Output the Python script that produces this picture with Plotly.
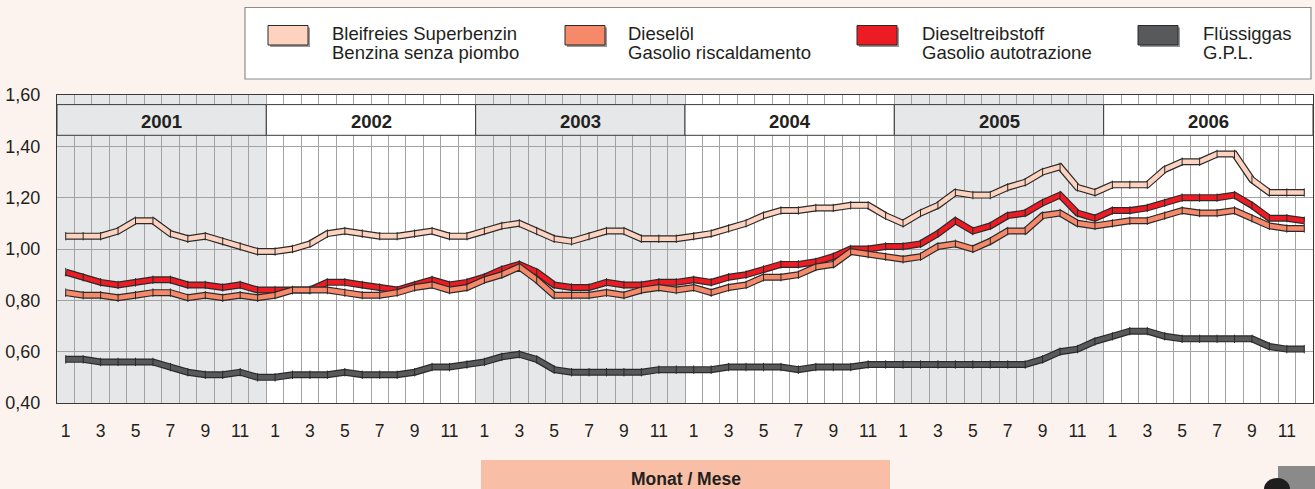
import plotly.graph_objects as go

# Preise in Euro pro Liter / prezzi in euro al litro, 2001-2006
years = [2001, 2002, 2003, 2004, 2005, 2006]
months = list(range(1, 13))
month_labels = [str(m) for m in months if m % 2 == 1]

benzin = [1.05, 1.05, 1.05, 1.07, 1.11, 1.11, 1.06, 1.04, 1.05, 1.03, 1.01, 0.99,
          0.99, 1.00, 1.02, 1.06, 1.07, 1.06, 1.05, 1.05, 1.06, 1.07, 1.05, 1.05,
          1.07, 1.09, 1.10, 1.07, 1.04, 1.03, 1.05, 1.07, 1.07, 1.04, 1.04, 1.04,
          1.05, 1.06, 1.08, 1.10, 1.13, 1.15, 1.15, 1.16, 1.16, 1.17, 1.17, 1.13,
          1.10, 1.14, 1.17, 1.22, 1.21, 1.21, 1.24, 1.26, 1.30, 1.32, 1.24, 1.22,
          1.25, 1.25, 1.25, 1.31, 1.34, 1.34, 1.37, 1.37, 1.27, 1.22, 1.22, 1.22]

dieseloel = [0.83, 0.82, 0.82, 0.81, 0.82, 0.83, 0.83, 0.81, 0.82, 0.81, 0.82, 0.81,
             0.82, 0.84, 0.84, 0.84, 0.83, 0.82, 0.82, 0.83, 0.85, 0.86, 0.84, 0.85,
             0.88, 0.90, 0.93, 0.88, 0.82, 0.82, 0.82, 0.83, 0.82, 0.84, 0.85, 0.84,
             0.85, 0.83, 0.85, 0.86, 0.89, 0.89, 0.90, 0.93, 0.94, 0.99, 0.98, 0.97,
             0.96, 0.97, 1.01, 1.02, 1.00, 1.03, 1.07, 1.07, 1.13, 1.14, 1.10, 1.09,
             1.10, 1.11, 1.11, 1.13, 1.15, 1.14, 1.14, 1.15, 1.12, 1.09, 1.08, 1.08]

diesel = [0.91, 0.89, 0.87, 0.86, 0.87, 0.88, 0.88, 0.86, 0.86, 0.85, 0.86, 0.84,
          0.84, 0.84, 0.84, 0.87, 0.87, 0.86, 0.85, 0.84, 0.86, 0.88, 0.86, 0.87,
          0.89, 0.92, 0.94, 0.91, 0.86, 0.85, 0.85, 0.87, 0.86, 0.86, 0.87, 0.87,
          0.88, 0.87, 0.89, 0.90, 0.92, 0.94, 0.94, 0.95, 0.97, 1.00, 1.00, 1.01,
          1.01, 1.02, 1.06, 1.11, 1.07, 1.09, 1.13, 1.14, 1.18, 1.21, 1.14, 1.12,
          1.15, 1.15, 1.16, 1.18, 1.20, 1.20, 1.20, 1.21, 1.17, 1.12, 1.12, 1.11]

gas = [0.57, 0.57, 0.56, 0.56, 0.56, 0.56, 0.54, 0.52, 0.51, 0.51, 0.52, 0.50,
       0.50, 0.51, 0.51, 0.51, 0.52, 0.51, 0.51, 0.51, 0.52, 0.54, 0.54, 0.55,
       0.56, 0.58, 0.59, 0.57, 0.53, 0.52, 0.52, 0.52, 0.52, 0.52, 0.53, 0.53,
       0.53, 0.53, 0.54, 0.54, 0.54, 0.54, 0.53, 0.54, 0.54, 0.54, 0.55, 0.55,
       0.55, 0.55, 0.55, 0.55, 0.55, 0.55, 0.55, 0.55, 0.57, 0.60, 0.61, 0.64,
       0.66, 0.68, 0.68, 0.66, 0.65, 0.65, 0.65, 0.65, 0.65, 0.62, 0.61, 0.61]

series = [
    ("Bleifreies Superbenzin", "Benzina senza piombo", benzin, "#fdd3c0"),
    ("Dieseltreibstoff", "Gasolio autotrazione", diesel, "#ed1c24"),
    ("Dieselöl", "Gasolio riscaldamento", dieseloel, "#f5896a"),
    ("Flüssiggas", "G.P.L.", gas, "#58595b"),
]
legend_order = [0, 2, 1, 3]

W, H = 1315, 489
L, R, T, B = 57, 2, 95, 86
FONT = "Liberation Sans, Arial, sans-serif"
INK = "#231f20"
OUTLINE = "#2a2a2a"
BG = "#fdf3ee"
BAND_GRAY = "#e6e7e8"


def px(x):
    return (x - L) / (W - L - R)


def py(y):
    return (H - B - y) / (H - T - B)


x = list(range(len(years) * 12))

fig = go.Figure()
for name1, name2, vals, col in series:
    fig.add_trace(go.Scatter(x=x, y=vals, mode="lines", line=dict(color=OUTLINE, width=7),
                             hoverinfo="skip", showlegend=False))
    fig.add_trace(go.Scatter(x=x, y=vals, mode="lines+markers", name=name1,
                             line=dict(color=col, width=4.6),
                             marker=dict(symbol="line-ns", size=6, color=col,
                                         line=dict(color=OUTLINE, width=1)),
                             showlegend=False))

shapes = []
annotations = []

# abwechselnd graue Jahre
for i, yr in enumerate(years):
    x0, x1 = i * 12 - 0.5, i * 12 + 11.5
    fill = BAND_GRAY if i % 2 == 0 else "white"
    if i % 2 == 0:
        shapes.append(dict(type="rect", xref="x", yref="y", x0=x0, x1=x1, y0=0.4, y1=1.6,
                           fillcolor=BAND_GRAY, line=dict(width=0), layer="below"))
    shapes.append(dict(type="rect", xref="x", yref="y", x0=x0, x1=x1, y0=1.443, y1=1.5626,
                       fillcolor=fill, line=dict(color="#3a3a3a", width=1), layer="above"))
    annotations.append(dict(x=i * 12 + 5.5, y=1.497, xref="x", yref="y", text=f"<b>{yr}</b>",
                            showarrow=False, font=dict(family=FONT, size=18.5, color=INK)))

# Legende
shapes.append(dict(type="rect", xref="paper", yref="paper", x0=px(245), x1=px(1311),
                   y0=py(79), y1=py(7.5), fillcolor="white", line=dict(color="#8c8c8c", width=1.2)))
swatch_x = [268, 565, 857, 1138]
text_x = [330, 626, 920, 1201]
for k, idx in enumerate(legend_order):
    name1, name2, vals, col = series[idx]
    sx = swatch_x[k]
    shapes.append(dict(type="rect", xref="paper", yref="paper", x0=px(sx + 2), x1=px(sx + 42),
                       y0=py(47), y1=py(27.5), fillcolor="#9a9a9a", line=dict(width=0)))
    shapes.append(dict(type="rect", xref="paper", yref="paper", x0=px(sx), x1=px(sx + 40),
                       y0=py(45), y1=py(25.5), fillcolor=col, line=dict(color=OUTLINE, width=1)))
    for line_txt, yy in ((name1, 33), (name2, 53)):
        annotations.append(dict(x=px(text_x[k]), y=py(yy), xref="paper", yref="paper",
                                text=line_txt, showarrow=False, xanchor="left", yanchor="middle",
                                font=dict(family=FONT, size=18.5, color=INK)))

# Achsentitel-Kasten
shapes.append(dict(type="rect", xref="paper", yref="paper", x0=px(481), x1=px(890),
                   y0=py(492), y1=py(460), fillcolor="#f9bea6", line=dict(width=0)))
annotations.append(dict(x=px(685.5), y=py(479), xref="paper", yref="paper",
                        text="<b>Monat / Mese</b>", showarrow=False, yanchor="middle",
                        font=dict(family=FONT, size=17.5, color=INK)))

# Logo-Rest unten rechts
shapes.append(dict(type="rect", xref="paper", yref="paper", x0=px(1278), x1=px(1316),
                   y0=py(492), y1=py(466), fillcolor="#8a8a8a", line=dict(width=0)))
shapes.append(dict(type="circle", xref="paper", yref="paper", x0=px(1264), x1=px(1290),
                   y0=py(500), y1=py(478), fillcolor="#1e1e1e", line=dict(width=0)))

fig.update_layout(
    width=W, height=H,
    margin=dict(l=L, r=R, t=T, b=B),
    paper_bgcolor=BG, plot_bgcolor="white",
    separators=",.",
    showlegend=False,
    shapes=shapes, annotations=annotations,
    font=dict(family=FONT, size=18, color=INK),
)
fig.update_xaxes(
    range=[-0.5, len(x) - 0.5], showgrid=False, zeroline=False,
    tickvals=[i * 12 + m - 1 for i in range(len(years)) for m in months if m % 2 == 1],
    ticktext=month_labels * len(years),
    ticks="", ticklabelstandoff=12, tickfont=dict(size=17.5),
    showline=True, mirror=True, linecolor="#3a3a3a", linewidth=1.3,
    minor=dict(tick0=-0.5, dtick=1, showgrid=True, gridcolor="#a3a3a3", gridwidth=1, ticks=""),
)
fig.update_yaxes(
    range=[0.4, 1.6], dtick=0.2, tick0=0.4, tickformat=".2f",
    showgrid=True, gridcolor="#a3a3a3", gridwidth=1, zeroline=False,
    ticks="", ticklabelstandoff=12, tickfont=dict(size=18),
    showline=True, mirror=True, linecolor="#3a3a3a", linewidth=1.3,
)

fig.write_html("out.html", config={"displayModeBar": False},
               post_script="document.body.style.margin='0';document.body.style.background='%s';" % BG)
